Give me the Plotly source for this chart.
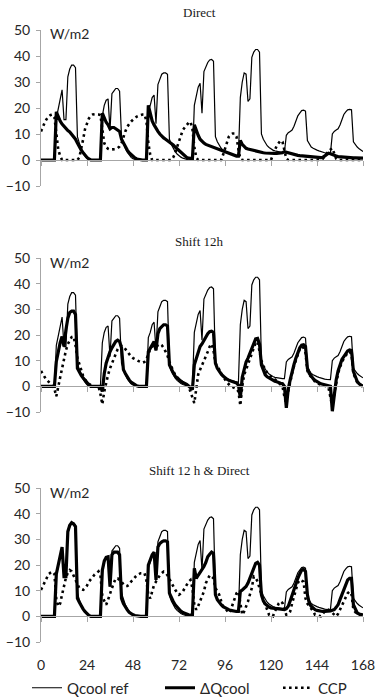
import plotly.graph_objects as go

# ---------------- data ----------------
hours = list(range(0, 169))
x_ticks = [0, 24, 48, 72, 96, 120, 144, 168]
y_ticks = [-10, 0, 10, 20, 30, 40, 50]
panel_titles = ["Direct", "Shift 12h", "Shift 12 h & Direct"]
series_names = ["Qcool ref", "\u0394Qcool", "CCP"]
unit_label = "W/m2"

# Reference cooling load (same in all three panels)
qcool_ref = (
    [0, 0, 0, 0, 0, 0, 0, 0, 16, 20, 24, 27, 15.5, 15.5, 32, 35, 36.5, 36.5, 35.5, 9, 6.5, 4.5, 2.8, 1.5]
    + [0.6, 0.2, 0, 0, 0, 0, 0, 0, 17, 21, 23, 23.5, 11.5, 25.5, 26.5, 27.5, 27.5, 26.5, 9, 6.5, 4.5, 3, 1.8, 1]
    + [0.5, 0.2, 0, 0, 0, 0, 0, 0, 19, 21, 24, 25, 14, 29, 31, 33, 33.5, 33.5, 33, 8, 6, 4.5, 3.2, 2.3]
    + [1.6, 1.1, 0.7, 0.4, 0.2, 0, 0, 0, 21, 25, 28, 29.5, 18, 34, 36, 37.5, 38.5, 38.7, 38, 9, 7, 5.5, 4.5, 3.8]
    + [3.3, 2.9, 2.6, 2.3, 2.1, 1.9, 1.7, 1.6, 24, 30, 33.5, 33, 22.5, 23.5, 39.5, 41.5, 42.5, 42.5, 41.5, 10, 8, 6.5, 5.5, 4.8]
    + [4.2, 3.8, 3.5, 3.3, 3.1, 3, 3, 3, 9.5, 10.5, 11, 11.5, 13, 15, 17, 18, 19, 19.2, 18.8, 7.5, 6, 5, 4.5, 4]
    + [3.8, 3.5, 3.2, 3, 2.8, 2.7, 2.6, 2.6, 10, 11, 11.5, 12, 13.5, 15.5, 17.5, 18.5, 19.3, 19.5, 19.3, 7, 5.8, 5, 4.3, 3.8, 3.3]
)

# Panel 1: Direct
dq_direct = (
    [0, 0, 0, 0, 0, 0, 0, 0, 18.5, 16.5, 15, 13.8, 12.8, 12, 11.3, 10.8, 10, 9, 8, 6.5, 5, 3.8, 2.8, 1.8]
    + [1, 0.4, 0, 0, 0, 0, 0, 0, 18, 16, 14.5, 13.5, 12, 12.5, 12.5, 12, 11.5, 11, 8, 6.5, 5, 3.8, 2.8, 2]
    + [1.3, 0.8, 0.4, 0.2, 0, 0, 0, 0, 21, 18, 15, 13.5, 12, 11, 10, 9, 8.5, 8, 7.5, 7, 6.5, 5.8, 5, 4.3]
    + [3.5, 2.8, 2, 1.4, 1, 0.7, 0.5, 0.5, 13.5, 11, 9.5, 8, 7, 6.5, 6, 5.7, 5.4, 5.1, 4.8, 4.5, 4.2, 3.9, 3.6, 3.4]
    + [3.2, 2.9, 2.6, 2.3, 2, 1.7, 1.5, 1.5, 7.5, 6, 5, 4.5, 4.2, 4, 3.8, 3.5, 3.3, 3.1, 3, 2.9, 2.8, 2.7, 2.6, 2.5]
    + [2.5, 2.5, 2.5, 2.5, 2.5, 2.6, 2.8, 3.2, 3, 2.6, 2.3, 2.1, 2, 1.9, 1.8, 1.7, 1.6, 1.5, 1.5, 1.4, 1.3, 1.2, 1.1, 1]
    + [1, 0.9, 0.9, 1, 1.5, 2.2, 2.6, 2.4, 2, 1.7, 1.5, 1.3, 1.2, 1.1, 1, 1, 0.9, 0.9, 0.9, 0.8, 0.8, 0.8, 0.7, 0.7, 0.7]
)
ccp_direct = (
    [11, 13, 14.5, 15.8, 16.8, 17.3, 17.5, 16.5, 9, 4, 1.5, 0, 0, 0, 0, 0, 0, 0, 0, 0, 1, 4, 8, 12]
    + [14.5, 16, 17, 17.5, 17.6, 17.6, 17.5, 17.3, 12, 6.5, 5, 4.3, 4, 4, 4, 4.2, 4.6, 5.2, 6.5, 9, 11, 12.8, 14, 14.8]
    + [15.5, 16.2, 16.7, 17, 17.3, 17.5, 17.5, 15, 6.5, 2, 0, 0, 0, 0, 0, 0, 0, 0, 0, 0, 0, 1, 2.6, 5]
    + [7.5, 9.5, 11.5, 12.5, 13.5, 14.3, 14.7, 12, 5, 1, 0, 0, 0, 0, 0, 0, 0, 0, 0, 0, 0, 0, 0, 2]
    + [4.5, 7, 9, 9.8, 10.2, 10.2, 9, 4, 0.5, 0, 0, 0, 0, 0, 0, 0, 0, 0, 0, 0, 0, 0, 0, 0]
    + [0, 2, 4, 5.5, 6.5, 7.5, 7, 4, 0.5, 0, 0, 0, 0, 0, 0, 0, 0, 0, 0, 0, 0, 0, 0, 0]
    + [0, 0, 0, 0.5, 1.3, 2.5, 3.5, 4.2, 4.5, 2.5, 0.5, 0, 0, 0, 0, 0, 0, 0, 0, 0, 0, 0, 0, 0, 0]
)

# Panel 2: Shift 12h
dq_shift = (
    [0, 0, 0, 0, 0, 0, 0, 0, 9.7, 14, 17, 19.4, 15.5, 22, 26.5, 28.8, 29.3, 29.3, 28, 7, 5.5, 4.3, 3.2, 2.2]
    + [1.3, 0.6, 0, 0, 0, 0, 0, 0, -2, 5, 9, 11.5, 13.5, 15, 16.5, 17.5, 18, 17.5, 15, 6.5, 5, 3.5, 2.5, 1.6]
    + [1, 0.5, 0.2, 0, 0, 0, 0, 0, 13.5, 15, 16, 17.4, 14, 20.5, 22.5, 23.5, 24, 24, 23.5, 8.4, 6.5, 5.2, 4, 3.2]
    + [2.6, 2, 1.5, 1.2, 0.8, 0.2, -0.6, -1.3, 8.4, 11, 13.5, 15.5, 16.5, 18, 19.5, 20.5, 21.3, 21.5, 21, 9, 7, 5.8, 4.8, 4]
    + [3.2, 2.8, 2.4, 2.1, 1.9, 1.6, 1.3, 0.5, -4.5, 3.5, 7, 9.5, 11, 13, 15, 17, 18.5, 18.7, 16.5, 8.4, 6, 4.5, 3.7, 3.2]
    + [2.7, 2.4, 2, 1.8, 1.4, 1.2, 1, 0, -8.4, -1, 2.5, 5.8, 8.5, 11, 13, 15, 16, 16.2, 15.5, 7, 5, 3.9, 3, 2.3]
    + [1.8, 1.3, 1, 0.8, 0.6, 0.5, 0.4, 0, -9.7, -2, 2.5, 6, 8.5, 10.5, 11.6, 12.8, 13.8, 14.2, 14, 5.8, 3.5, 1.9, 1, 0.4, 0]
)
ccp_shift = (
    [6, 4.5, 3.5, 2.5, 1.9, 1, 0, -1, -3.9, 0.6, 3.5, 7, 11, 14, 16.5, 18, 19.2, 19.4, 16, 11, 8.4, 6, 4, 2.6]
    + [1.6, 1, 0.5, 0, 0, 0, 0, -3, -7, -2, 2, 4.5, 7, 9, 11, 13, 14.5, 15.5, 15.8, 15.5, 14.5, 13.5, 12.5, 11.6]
    + [11, 10.5, 10.2, 9.8, 9.5, 9.2, 9.5, 10.5, 12.5, 14.5, 15.5, 16, 15.5, 16, 16.5, 16, 15, 13.5, 12, 9.5, 7.5, 6, 4.5, 3.5]
    + [2.6, 2, 1.4, 1, 0.5, 0, -2.4, -4.5, -6.5, -1, 4.6, 6.5, 8.5, 10, 11.7, 13.5, 15.5, 16.5, 14, 9.1, 7.5, 6.5, 5, 3.8]
    + [3, 1.5, 0.8, 0, -0.3, -0.5, -1, -2, -7.5, 0, 4.6, 6.5, 8.5, 10.5, 12.5, 15, 17, 17.4, 13.6, 10, 8, 6.5, 5.3, 4.3]
    + [3.5, 3, 2.7, 2, 1.4, 0.8, 0, -4, -7, -2, 2, 5, 8, 10.5, 12.5, 14.5, 15.5, 15, 13, 6, 4.5, 3.5, 2.5, 1.8]
    + [1.2, 0.8, 0.5, 0.3, 0.2, 0, -0.5, -4, -8, -3, 1.5, 5, 7.5, 9.5, 11, 12, 13, 13.5, 12.5, 5, 3, 1.5, 0.8, 0.3, 0]
)

# Panel 3: Shift 12 h & Direct
dq_both = (
    [0, 0, 0, 0, 0, 0, 0, 0, 16.5, 20, 24, 27, 15.5, 15.5, 33, 35.5, 36.5, 36, 35, 7, 5.5, 4, 2.8, 1.8]
    + [1, 0.4, 0, 0, 0, 0, 0, 0, 18, 21.5, 23, 23.2, 11.6, 24, 25, 25, 25, 24, 7, 5, 3.5, 2.5, 1.6, 1]
    + [0.6, 0.3, 0.1, 0, 0, 0, 0, 0, 20, 22, 24, 25, 14.2, 27, 28.4, 29, 29.4, 29.4, 29, 9, 7, 5.8, 4.5, 3.5]
    + [2.6, 2, 1.5, 1.1, 0.8, 0.6, 0.5, 0.5, 18.7, 14.8, 16, 17, 18, 19.4, 21, 23.2, 24.2, 25, 24.5, 8.4, 6.5, 5.3, 4.5, 3.8]
    + [3.3, 3, 2.6, 2.3, 2.1, 2, 1.9, 1.9, 9.7, 10.3, 11, 11.6, 13, 14.8, 17, 19, 20.6, 21, 20, 8.4, 6, 4.8, 4, 3.6]
    + [3.3, 3.2, 3, 2.8, 2.6, 2.6, 2.6, 2.6, 3, 3.9, 6, 8.4, 10.5, 12.8, 14.8, 16.5, 18, 18.3, 17.5, 8.4, 5, 3.9, 3.2, 2.6]
    + [2.3, 2.1, 2, 1.9, 1.9, 1.9, 2, 2.1, 2.4, 2.6, 3.5, 4.5, 6.5, 8.5, 10.5, 12.5, 14.2, 14.8, 14.8, 4.5, 2.5, 1.3, 0.9, 0.7, 0.6]
)
ccp_both = (
    [10.3, 12, 13.5, 15, 16.5, 17, 17.4, 16.5, 6.5, 3.9, 5, 8.5, 12.3, 15, 17, 18, 17.5, 16, 14, 12.5, 11, 10.5, 10.3, 11]
    + [12, 13.5, 14.5, 15.5, 16.3, 16.8, 17.5, 16, 8, 6, 4.5, 6.5, 8.4, 11, 13, 14.8, 14.8, 14.2, 13.5, 12.5, 11.8, 11.8, 12.3, 13.5]
    + [14.2, 15.2, 16, 16.5, 16.8, 16.8, 16.8, 14, 8.4, 7, 10, 12.3, 13.5, 14.8, 16, 16.8, 17.4, 17, 16, 14.5, 12.9, 11.5, 10.3, 9.3]
    + [8.4, 9, 9.7, 11, 12.3, 13.5, 14.2, 11, 4.5, 2.6, 4, 5.8, 8, 9.7, 12.9, 14.5, 16, 15.5, 14.8, 11, 9.5, 8.4, 6, 4]
    + [3.2, 2, 1.3, 2.5, 4.5, 7, 9, 9.7, 5, 0.6, 1.9, 3.5, 5.8, 8.5, 11, 15.5, 15, 13.5, 11, 8.4, 6, 4.5, 2.5, 0.6]
    + [0.2, 0, 2, 3.2, 5, 5.8, 5.2, 3, 0.6, 1.2, 1.9, 5, 8, 11, 13, 14.2, 14, 13.5, 7, 5, 4, 3.2, 2, 0.6]
    + [0.3, 0, 0, 1, 1.9, 2.3, 2.6, 2, 1.3, 0.6, 0, 1, 2.5, 4.2, 5.8, 7.5, 9, 9.7, 8.5, 2.6, 1.5, 0.8, 0.6, 0.2, 0]
)

panels = [
    (qcool_ref, dq_direct, ccp_direct),
    (qcool_ref, dq_shift, ccp_shift),
    (qcool_ref, dq_both, ccp_both),
]

# ---------------- figure ----------------
W, H = 376, 700
M_L, M_R, M_T, M_B = 41, 13, 30, 58
PH = H - M_T - M_B  # plot area height in px
PW = W - M_L - M_R


def frac(py):
    """pixel row (from top of page) -> paper fraction"""
    return (H - M_B - py) / PH


domains = [(frac(186), 1.0), (frac(412), frac(258)), (0.0, frac(488))]
title_rows = [12, 241, 470]
unit_rows = [34, 262, 492]
legend_ids = ["legend", "legend2", "legend3"]
legend_left_px = [27, 160, 278]

AXIS_GREY = "#a6a6a6"
TXT = "#262626"
FONT = "Lato"

fig = go.Figure()

styles = [
    dict(color="black", width=1.2),
    dict(color="black", width=3.2),
    dict(color="black", width=2.6, dash="2.6px,3.4px"),
]

for i, (ref, dq, ccp) in enumerate(panels):
    n = i + 1
    xa = "x" if n == 1 else f"x{n}"
    ya = "y" if n == 1 else f"y{n}"
    for k, (vals, name) in enumerate(zip((ref, dq, ccp), series_names)):
        fig.add_trace(go.Scatter(
            x=hours, y=vals, mode="lines", name=name,
            line=styles[k], xaxis=xa, yaxis=ya,
            legendgroup=name, showlegend=(n == 3), legend=legend_ids[k],
            hoverinfo="skip",
        ))
    # helper (empty) trace so the zero-line axis gets drawn
    fig.add_trace(go.Scatter(x=[], y=[], xaxis=f"x{n + 3}", yaxis=ya,
                             showlegend=False, hoverinfo="skip"))

    d0, d1 = domains[i]
    lay_x = "xaxis" if n == 1 else f"xaxis{n}"
    lay_y = "yaxis" if n == 1 else f"yaxis{n}"
    fig.layout[lay_x] = dict(
        domain=[0, 1], range=[0, 168], anchor=ya,
        tickvals=x_ticks, showticklabels=(n == 3), ticks="",
        showline=False, showgrid=False, zeroline=False,
        tickfont=dict(family=FONT, size=14, color=TXT),
        ticklabelstandoff=13, automargin=False,
    )
    fig.layout[f"xaxis{n + 3}"] = dict(
        overlaying=xa, anchor="free",
        position=d0 + (d1 - d0) * (0 - (-10)) / (50 - (-10)),
        range=[0, 168], tickvals=x_ticks, ticks="outside", ticklen=5,
        tickcolor=AXIS_GREY, showticklabels=False,
        showline=True, linecolor=AXIS_GREY, linewidth=1,
        showgrid=False, zeroline=False, automargin=False,
    )
    fig.layout[lay_y] = dict(
        domain=[d0, d1], range=[-10, 50], anchor=xa,
        tickvals=y_ticks, ticks="outside", ticklen=4, tickcolor=AXIS_GREY,
        showline=True, linecolor=AXIS_GREY, linewidth=1,
        showgrid=False, zeroline=False, automargin=False,
        tickfont=dict(family=FONT, size=14, color=TXT),
        ticklabelstandoff=3,
    )
    fig.add_annotation(
        text=panel_titles[i], xref="paper", yref="paper",
        x=(199.5 - M_L) / PW, y=frac(title_rows[i]),
        xanchor="center", yanchor="middle", showarrow=False,
        font=dict(family="Liberation Serif", size=13, color="#1a1a1a"),
    )
    fig.add_annotation(
        text=unit_label, xref="paper", yref="paper",
        x=(48 - M_L) / PW, y=frac(unit_rows[i]),
        xanchor="left", yanchor="middle", showarrow=False,
        font=dict(family=FONT, size=14, color=TXT),
    )

legend_style = dict(
    orientation="h", xref="container", xanchor="left",
    yref="container", y=(H - 688) / H, yanchor="middle",
    font=dict(family=FONT, size=15, color=TXT),
    bgcolor="rgba(0,0,0,0)", borderwidth=0, itemwidth=30,
)

fig.update_layout(
    width=W, height=H,
    margin=dict(l=M_L, r=M_R, t=M_T, b=M_B, pad=0, autoexpand=False),
    paper_bgcolor="white", plot_bgcolor="white",
    showlegend=True,
    legend=dict(legend_style, x=legend_left_px[0] / W),
    legend2=dict(legend_style, x=legend_left_px[1] / W),
    legend3=dict(legend_style, x=legend_left_px[2] / W),
)

fig.write_html("out.html")
